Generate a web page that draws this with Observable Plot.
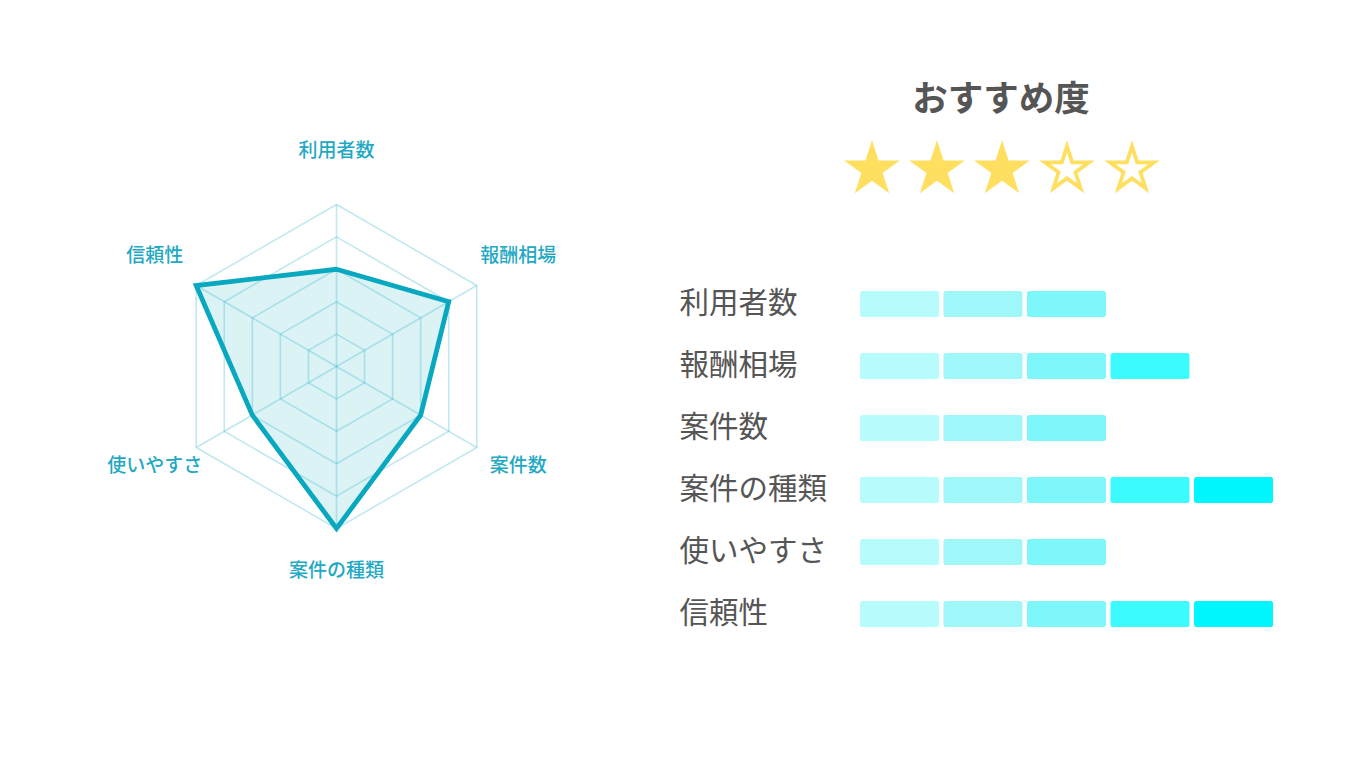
<!DOCTYPE html>
<html>
<head>
<meta charset="utf-8">
<script src="https://cdn.jsdelivr.net/npm/d3@7"></script>
<script src="https://cdn.jsdelivr.net/npm/@observablehq/plot@0.6"></script>
<style>
  html, body { margin: 0; padding: 0; background: #fff; }
  #page { position: relative; width: 1366px; height: 768px; overflow: hidden; font-family: "Noto Sans CJK JP", "Noto Sans", sans-serif; }
  .abs { position: absolute; }
  svg { overflow: visible; }
  #title { position: absolute; left: 851px; width: 300px; top: 73px; text-align: center; font-size: 35.5px; line-height: 46px; font-weight: 700; color: #555; }
</style>
</head>
<body>
<div id="page">
  <div id="radar" class="abs" style="left:93px; top:122.5px;"></div>
  <div id="title">おすすめ度</div>
  <div id="stars" class="abs" style="left:839px; top:134.3px;"></div>
  <div id="bars" class="abs" style="left:680px; top:291px;"></div>
</div>
<script>
// ---- data ----
const categories = ["利用者数", "報酬相場", "案件数", "案件の種類", "使いやすさ", "信頼性"];
const scores = [3, 4, 3, 5, 3, 5];
const levels = [1, 2, 3, 4, 5];
const levelColors = ["#b7fcfd", "#a0f7fa", "#7df7fa", "#3cfbff", "#00f7ff"];
const starSlots = [1, 2, 3, 4, 5];
const starRating = 3;
const maxScore = 5;

const FONT = '"Noto Sans CJK JP", "Noto Sans", sans-serif';
const teal = "#08a8c0";

// ---- radar ----
const n = categories.length;
const ang = i => (i * 2 * Math.PI) / n;
const px = (i, v) => v * Math.sin(ang(i));
const py = (i, v) => v * Math.cos(ang(i));

const ringPts = levels.flatMap(l => categories.map((c, i) => ({level: l, x: px(i, l), y: py(i, l)})));
const spokes = categories.map((c, i) => ({x1: 0, y1: 0, x2: px(i, maxScore), y2: py(i, maxScore)}));
const scorePts = categories.map((c, i) => ({cat: c, x: px(i, scores[i]), y: py(i, scores[i])}));
const labelR = 6.48;
const labelPts = categories.map((c, i) => ({cat: c, x: px(i, labelR), y: py(i, labelR)}));

const radar = Plot.plot({
  width: 486, height: 486,
  margin: 0,
  x: {domain: [-7.5, 7.5], axis: null},
  y: {domain: [-7.5, 7.5], axis: null},
  style: {fontFamily: FONT, background: "transparent"},
  marks: [
    Plot.line(scorePts, {x: "x", y: "y", curve: "linear-closed", fill: teal, fillOpacity: 0.14, stroke: "none"}),
    Plot.line(ringPts, {x: "x", y: "y", z: "level", curve: "linear-closed", stroke: teal, strokeOpacity: 0.25, strokeWidth: 1.6}),
    Plot.link(spokes, {x1: "x1", y1: "y1", x2: "x2", y2: "y2", stroke: teal, strokeOpacity: 0.25, strokeWidth: 1.6}),
    Plot.line(scorePts, {x: "x", y: "y", curve: "linear-closed", stroke: teal, strokeWidth: 4.8, strokeLinejoin: "miter", strokeMiterlimit: 4}),
    Plot.text(labelPts, {x: "x", y: "y", dy: -6, text: "cat", fill: "#1fa9c4", fontSize: 19, fontWeight: 500, fontFamily: FONT})
  ]
});
document.getElementById("radar").appendChild(radar);

// ---- stars ----
const starData = starSlots.map(s => ({slot: s, filled: s <= starRating}));
const gold = "#ffdf5f";
const stars = Plot.plot({
  width: 325, height: 70,
  margin: 0,
  x: {domain: [0.5, 5.5], axis: null},
  style: {background: "transparent"},
  marks: [
    Plot.dot(starData, {x: "slot", frameAnchor: "middle", symbol: "star", r: 17.5, fill: gold, stroke: "none"}),
    Plot.dot(starData.filter(d => !d.filled), {x: "slot", frameAnchor: "middle", symbol: "star", r: 10.2, fill: "#fff", stroke: "none"})
  ]
});
document.getElementById("stars").appendChild(stars);

// ---- bars ----
const cells = categories.flatMap((c, i) => levels.filter(l => l <= scores[i]).map(l => ({cat: c, level: l})));
const bars = Plot.plot({
  width: 593, height: 336,
  marginLeft: 180, marginRight: 0, marginTop: 0, marginBottom: 0,
  x: {type: "band", domain: levels, paddingInner: 0.054, paddingOuter: 0, round: false, axis: null},
  y: {type: "band", domain: categories, paddingInner: 0.58, paddingOuter: 0, round: false, axis: null},
  color: {domain: levels, range: levelColors},
  style: {fontFamily: FONT, background: "transparent"},
  marks: [
    Plot.cell(cells, {x: "level", y: "cat", fill: "level", rx: 2.5}),
    Plot.text(categories, {y: d => d, frameAnchor: "left", textAnchor: "start", dx: -181, dy: -1, fill: "#555", fontSize: 29.5, fontFamily: FONT})
  ]
});
document.getElementById("bars").appendChild(bars);
</script>
</body>
</html>
